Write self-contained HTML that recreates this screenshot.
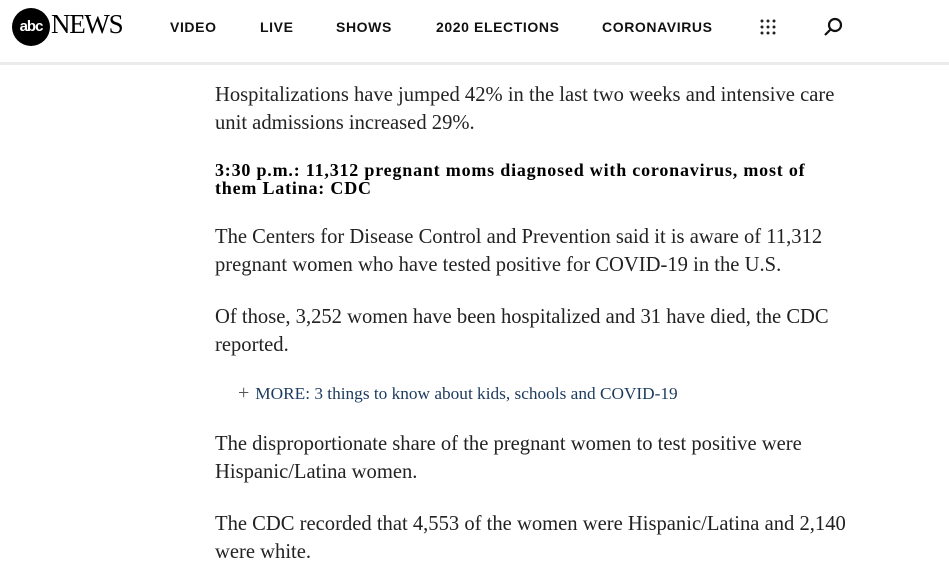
<!DOCTYPE html>
<html><head><meta charset="utf-8"><style>
body{margin:0;width:949px;height:577px;overflow:hidden;background:#fff;font-family:"Liberation Serif",serif;color:#222;position:relative}
.hdr{position:absolute;left:0;top:0;width:949px;height:62px;background:#fff;border-bottom:3px solid #ebebeb}
.nav{position:absolute;top:19px;font-family:"Liberation Sans",sans-serif;font-weight:bold;font-size:14px;letter-spacing:0.6px;color:#111}
.l{position:absolute;left:215px;white-space:nowrap;font-size:20.6px;line-height:28px}
.b{position:absolute;left:215px;white-space:nowrap;font-size:18px;letter-spacing:0.8px;font-weight:bold;line-height:18px;color:#000}
</style></head><body>
<div class="hdr">
 <div style="position:absolute;left:12px;top:8px;width:38px;height:38px;border-radius:50%;background:#000;color:#fff;font-family:'Liberation Sans',sans-serif;font-weight:bold;font-size:15px;line-height:38px;text-align:center;letter-spacing:-1px">abc</div>
 <div style="position:absolute;left:51px;top:9px;font-size:27px;color:#000;letter-spacing:-1.3px">NEWS</div>
 <div class="nav" style="left:170px">VIDEO</div>
 <div class="nav" style="left:260px">LIVE</div>
 <div class="nav" style="left:336px">SHOWS</div>
 <div class="nav" style="left:436px">2020 ELECTIONS</div>
 <div class="nav" style="left:602px">CORONAVIRUS</div>
 <svg style="position:absolute;left:759px;top:18px" width="18" height="18"><g fill="#222"><circle cx="3" cy="3" r="1.5"/><circle cx="9" cy="3" r="1.5"/><circle cx="15" cy="3" r="1.5"/><circle cx="3" cy="9" r="1.5"/><circle cx="9" cy="9" r="1.5"/><circle cx="15" cy="9" r="1.5"/><circle cx="3" cy="15" r="1.5"/><circle cx="9" cy="15" r="1.5"/><circle cx="15" cy="15" r="1.5"/></g></svg>
 <svg style="position:absolute;left:822px;top:16px" width="22" height="22"><circle cx="13" cy="9" r="6" fill="none" stroke="#111" stroke-width="2.2"/><line x1="9" y1="13" x2="3" y2="19" stroke="#111" stroke-width="2.2"/></svg>
</div>
<div>
<div class="l" style="top:81px">Hospitalizations have jumped 42% in the last two weeks and intensive care<br>unit admissions increased 29%.</div>
<div class="b" style="top:161px">3:30 p.m.: 11,312 pregnant moms diagnosed with coronavirus, most of<br>them Latina: CDC</div>
<div class="l" style="top:223px">The Centers for Disease Control and Prevention said it is aware of 11,312<br>pregnant women who have tested positive for COVID-19 in the U.S.</div>
<div class="l" style="top:303px">Of those, 3,252 women have been hospitalized and 31 have died, the CDC<br>reported.</div>
<div style="position:absolute;left:238px;top:383px;font-size:17.3px;color:#1c3a5e;white-space:nowrap;line-height:20px"><span style="color:#555;font-size:20px;margin-right:6px">+</span>MORE: 3 things to know about kids, schools and COVID-19</div>
<div class="l" style="top:430px">The disproportionate share of the pregnant women to test positive were<br>Hispanic/Latina women.</div>
<div class="l" style="top:510px">The CDC recorded that 4,553 of the women were Hispanic/Latina and 2,140<br>were white.</div>
</div>
</body></html>
